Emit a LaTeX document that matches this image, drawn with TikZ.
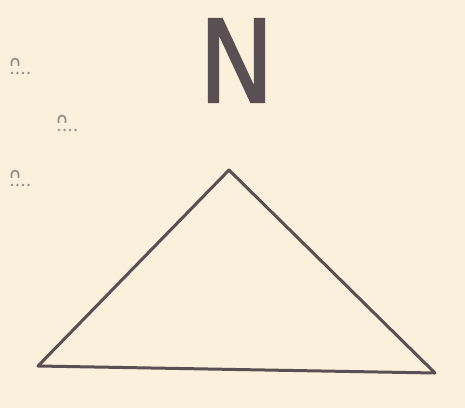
\documentclass[tikz,border=0pt]{standalone}
\usepackage{xcolor}
\usepackage{fontspec}
\newfontfamily\letterfont[FakeBold=1.6]{DejaVu Sans}
\usepackage{tikz}
\usetikzlibrary{positioning}

\definecolor{paper}{HTML}{FBF0DB}
\definecolor{ink}{HTML}{5A4F52}
\definecolor{faint}{HTML}{9A8E88}

\begin{document}
\begin{tikzpicture}[x=0.02cm,y=-0.02cm]
\fill[paper] (0,0) rectangle (465,408);
\useasboundingbox (0,0) rectangle (465,408);
% north letter
\node[ink,font=\letterfont\fontsize{65}{65}\selectfont,inner sep=0pt,xscale=0.88] (north) at (236.5,60.5) {N};
% triangle
\coordinate (apex) at (229,170);
\coordinate (left) at (38,366);
\coordinate (right) at (435,373);
\draw[ink,line width=0.06cm,line join=round] (apex) -- (left) -- (right) -- cycle;
% small marks at the left
\foreach \x/\y in {15/62, 62/119, 15/174} {
  \draw[faint,line width=0.035cm] (\x-3.5,\y+4) -- (\x-3.5,\y) arc (180:360:3.5) -- (\x+3.5,\y+4);
  \foreach \d in {0,1,2,3}
    \fill[faint] (\x-3+\d*5.5,\y+11) circle (1.3);
}
\end{tikzpicture}
\end{document}
